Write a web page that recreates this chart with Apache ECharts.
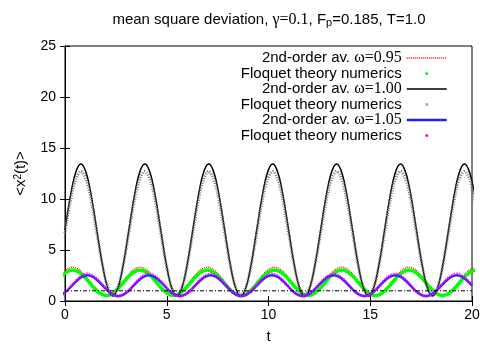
<!DOCTYPE html>
<html><head><meta charset="utf-8">
<script src="https://cdn.jsdelivr.net/npm/echarts@6.0.0/dist/echarts.min.js"></script>
<style>html,body{margin:0;padding:0;background:#fff}#c{width:500px;height:350px}</style>
</head><body><div id="c"></div>
<script>
// ---- omega = 0.95 : sample times and values ----
const t095 = [-0.171,0.105,0.380,0.655,0.931,1.206,1.482,1.757,2.033,2.308,2.583,2.859,3.134,3.410,
3.685,3.960,4.236,4.511,4.787,5.062,5.338,5.613,5.888,6.164,6.439,6.715,
6.990,7.265,7.541,7.816,8.092,8.367,8.643,8.918,9.193,9.469,9.744,10.020,
10.295,10.570,10.846,11.121,11.397,11.672,11.948,12.223,12.498,12.774,13.049,13.325,
13.600,13.875,14.151,14.426,14.702,14.977,15.253,15.528,15.803,16.079,16.354,16.630,
16.905,17.180,17.456,17.731,18.007,18.282,18.558,18.833,19.108,19.384,19.659,19.935,20.210];
const avg095 = [2.62,3.13,
3.32,3.13,2.62,1.92,1.22,0.71,0.52,0.71,1.22,1.92,2.62,3.13,
3.32,3.13,2.62,1.92,1.22,0.71,0.52,0.71,1.22,1.92,2.62,3.13,
3.32,3.13,2.62,1.92,1.22,0.71,0.52,0.71,1.22,1.92,2.62,3.13,
3.32,3.13,2.62,1.92,1.22,0.71,0.52,0.71,1.22,1.92,2.62,3.13,
3.32,3.13,2.62,1.92,1.22,0.71,0.52,0.71,1.22,1.92,2.62,3.13,
3.32,3.13,2.62,1.92,1.22,0.71,0.52,0.71,1.22,1.92,2.62,3.13,
3.32];
const floq095 = [2.42,2.87,
3.04,2.87,2.42,1.79,1.17,0.71,0.54,0.71,1.17,1.79,2.42,2.87,
3.04,2.87,2.42,1.79,1.17,0.71,0.54,0.71,1.17,1.79,2.42,2.87,
3.04,2.87,2.42,1.79,1.17,0.71,0.54,0.71,1.17,1.79,2.42,2.87,
3.04,2.87,2.42,1.79,1.17,0.71,0.54,0.71,1.17,1.79,2.42,2.87,
3.04,2.87,2.42,1.79,1.17,0.71,0.54,0.71,1.17,1.79,2.42,2.87,
3.04,2.87,2.42,1.79,1.17,0.71,0.54,0.71,1.17,1.79,2.42,2.87,
3.04];

// ---- omega = 1.00 ----
const t100 = [-0.005,0.256,0.518,0.780,1.042,1.304,1.565,1.827,2.089,2.351,2.613,2.875,3.137,
3.398,3.660,3.922,4.184,4.446,4.707,4.969,5.231,5.492,5.754,6.016,6.278,6.540,
6.801,7.063,7.325,7.587,7.849,8.110,8.372,8.634,8.896,9.158,9.419,9.681,9.943,
10.205,10.467,10.728,10.990,11.252,11.514,11.776,12.037,12.299,12.561,12.823,13.085,
13.346,13.608,13.870,14.132,14.394,14.655,14.917,15.179,15.441,15.703,15.964,16.226,
16.488,16.750,17.012,17.273,17.535,17.797,18.059,18.321,18.582,18.844,19.106,19.368,
19.630,19.891,20.153];
const avg100 = [6.95,10.19,12.55,
13.42,12.55,10.19,6.95,3.71,1.35,0.48,1.35,3.71,6.95,10.19,12.55,
13.42,12.55,10.19,6.95,3.71,1.35,0.48,1.35,3.71,6.95,10.19,12.55,
13.42,12.55,10.19,6.95,3.71,1.35,0.48,1.35,3.71,6.95,10.19,12.55,
13.42,12.55,10.19,6.95,3.71,1.35,0.48,1.35,3.71,6.95,10.19,12.55,
13.42,12.55,10.19,6.95,3.71,1.35,0.48,1.35,3.71,6.95,10.19,12.55,
13.42,12.55,10.19,6.95,3.71,1.35,0.48,1.35,3.71,6.95,10.19,12.55,
13.42,12.55,10.19];
const floq100 = [6.65,9.68,11.89,
12.70,11.89,9.68,6.65,3.63,1.41,0.60,1.41,3.63,6.65,9.68,11.89,
12.70,11.89,9.68,6.65,3.63,1.41,0.60,1.41,3.63,6.65,9.68,11.89,
12.70,11.89,9.68,6.65,3.63,1.41,0.60,1.41,3.63,6.65,9.68,11.89,
12.70,11.89,9.68,6.65,3.63,1.41,0.60,1.41,3.63,6.65,9.68,11.89,
12.70,11.89,9.68,6.65,3.63,1.41,0.60,1.41,3.63,6.65,9.68,11.89,
12.70,11.89,9.68,6.65,3.63,1.41,0.60,1.41,3.63,6.65,9.68,11.89,
12.70,11.89,9.68];

// ---- omega = 1.05 ----
const t105 = [-0.160,0.092,0.344,0.596,0.848,1.100,1.352,1.604,1.856,2.108,2.360,2.613,2.865,
3.117,3.369,3.621,3.873,4.125,4.377,4.629,4.881,5.133,5.385,5.638,5.890,6.142,
6.394,6.646,6.898,7.150,7.402,7.654,7.906,8.158,8.410,8.663,8.915,9.167,9.419,
9.671,9.923,10.175,10.427,10.679,10.931,11.183,11.435,11.688,11.940,12.192,12.444,
12.696,12.948,13.200,13.452,13.704,13.956,14.208,14.460,14.713,14.965,15.217,15.469,
15.721,15.973,16.225,16.477,16.729,16.981,17.233,17.485,17.738,17.990,18.242,18.494,
18.746,18.998,19.250,19.502,19.754,20.006];
const avg105 = [0.62,0.99,1.50,2.01,2.38,
2.52,2.38,2.01,1.50,0.99,0.62,0.48,0.62,0.99,1.50,2.01,2.38,
2.52,2.38,2.01,1.50,0.99,0.62,0.48,0.62,0.99,1.50,2.01,2.38,
2.52,2.38,2.01,1.50,0.99,0.62,0.48,0.62,0.99,1.50,2.01,2.38,
2.52,2.38,2.01,1.50,0.99,0.62,0.48,0.62,0.99,1.50,2.01,2.38,
2.52,2.38,2.01,1.50,0.99,0.62,0.48,0.62,0.99,1.50,2.01,2.38,
2.52,2.38,2.01,1.50,0.99,0.62,0.48,0.62,0.99,1.50,2.01,2.38,
2.52,2.38,2.01,1.50];
const floq105 = [0.61,1.01,1.56,2.11,2.51,
2.66,2.51,2.11,1.56,1.01,0.61,0.46,0.61,1.01,1.56,2.11,2.51,
2.66,2.51,2.11,1.56,1.01,0.61,0.46,0.61,1.01,1.56,2.11,2.51,
2.66,2.51,2.11,1.56,1.01,0.61,0.46,0.61,1.01,1.56,2.11,2.51,
2.66,2.51,2.11,1.56,1.01,0.61,0.46,0.61,1.01,1.56,2.11,2.51,
2.66,2.51,2.11,1.56,1.01,0.61,0.46,0.61,1.01,1.56,2.11,2.51,
2.66,2.51,2.11,1.56,1.01,0.61,0.46,0.61,1.01,1.56,2.11,2.51,
2.66,2.51,2.11,1.56];

// horizontal reference level (dash-dot line)
const refT = [0, 20];
const refLevel = [1.0, 1.0];

const legendLabels = {
  avg095: '{a|2nd-order av. }{w|ω=0.95}',
  floq095: '{a|Floquet theory numerics}',
  avg100: '{a|2nd-order av. }{w|ω=1.00}',
  floq100: '{a|Floquet theory numerics}',
  avg105: '{a|2nd-order av. }{w|ω=1.05}',
  floq105: '{a|Floquet theory numerics}'
};

const SANS = 'Liberation Sans, Arial, Helvetica, sans-serif';
const SERIF = 'Liberation Serif, Times New Roman, serif';
const pts = (tt, arr) => tt.map((x, i) => [x, arr[i]]);
const SM = 0.35;

const chart = echarts.init(document.getElementById('c'), null, {renderer: 'canvas'});
const axisCommon = {
  type: 'value',
  axisLine: {show: true, lineStyle: {color: '#000', width: 1}},
  axisTick: {show: true, inside: true, length: 5, lineStyle: {color: '#000', width: 1}},
  splitLine: {show: false}
};
chart.setOption({
  animation: false,
  backgroundColor: '#fff',
  grid: {left: 65, right: 28, top: 46, bottom: 49, show: true, borderColor: '#000', borderWidth: 1},
  graphic: [{
    type: 'text', x: 269, y: 20,
    style: {
      text: '{a|mean square deviation, }{g|γ=0.1}{a|, F}{s|p}{a|=0.185, T=1.0}',
      align: 'center', verticalAlign: 'middle', textAlign: 'center', textVerticalAlign: 'middle',
      rich: {
        a: {fontFamily: SANS, fontSize: 15, lineHeight: 17, fill: '#000', color: '#000'},
        g: {fontFamily: SERIF, fontSize: 16, lineHeight: 17, fill: '#000', color: '#000'},
        s: {fontFamily: SANS, fontSize: 11, lineHeight: 8, verticalAlign: 'bottom', fill: '#000', color: '#000'}
      }
    }
  }],
  legend: {
    orient: 'vertical', right: 47, top: 45, align: 'right',
    itemWidth: 40, itemHeight: 3, itemGap: 0, selectedMode: false,
    formatter: name => legendLabels[name],
    textStyle: {
      color: '#000', fontFamily: SANS, fontSize: 15,
      rich: {
        a: {fontFamily: SANS, fontSize: 15, lineHeight: 15, color: '#000'},
        w: {fontFamily: SERIF, fontSize: 16, lineHeight: 15, color: '#000'}
      }
    },
    data: [
      {name: 'avg095', itemStyle: {opacity: 0}, lineStyle: {color: '#ff0000', width: 1.3, type: [1, 1]}},
      {name: 'floq095', icon: 'circle', itemStyle: {color: '#00ff00'}},
      {name: 'avg100', itemStyle: {opacity: 0}, lineStyle: {color: '#000000', width: 1.5}},
      {name: 'floq100', icon: 'path://M0,1L1,0L5,4L9,0L10,1L6,5L10,9L9,10L5,6L1,10L0,9L4,5Z', itemStyle: {color: '#333'}},
      {name: 'avg105', itemStyle: {opacity: 0}, lineStyle: {color: '#2222ff', width: 2.5}},
      {name: 'floq105', icon: 'circle', itemStyle: {color: '#ff00ff'}}
    ]
  },
  xAxis: [
    Object.assign({}, axisCommon, {
      min: 0, max: 20, interval: 5, position: 'bottom',
      axisLabel: {color: '#000', fontFamily: SANS, fontSize: 14, margin: 7},
      name: 't', nameLocation: 'middle', nameGap: 28,
      nameTextStyle: {color: '#000', fontFamily: SANS, fontSize: 15}
    }),
    Object.assign({}, axisCommon, {min: 0, max: 20, interval: 5, position: 'top', axisLabel: {show: false}})
  ],
  yAxis: [
    Object.assign({}, axisCommon, {
      min: 0, max: 25, interval: 5, position: 'left',
      axisLabel: {color: '#000', fontFamily: SANS, fontSize: 14, margin: 9},
      name: '{a|<x}{s|2}{a|(t)>}', nameLocation: 'middle', nameGap: 36,
      nameTextStyle: {
        color: '#000', fontFamily: SANS, fontSize: 15,
        rich: {
          a: {fontFamily: SANS, fontSize: 15, lineHeight: 16, color: '#000'},
          s: {fontFamily: SANS, fontSize: 10, lineHeight: 8, verticalAlign: 'top', color: '#000'}
        }
      }
    }),
    Object.assign({}, axisCommon, {min: 0, max: 25, interval: 5, position: 'right', axisLabel: {show: false}})
  ],
  series: [
    {name: 'avg095', type: 'line', data: pts(t095, avg095), smooth: SM, symbol: 'none', color: '#ff0000',
     lineStyle: {color: '#ff0000', width: 1.3, type: [1, 1]}},
    {name: 'floq095', type: 'line', data: pts(t095, floq095), smooth: SM, symbol: 'none', color: '#00ff00',
     lineStyle: {color: '#00ff00', width: 3.5}},
    {name: 'avg100', type: 'line', data: pts(t100, avg100), smooth: SM, symbol: 'none', color: '#000',
     lineStyle: {color: '#000', width: 1.5}},
    {name: 'floq100', type: 'line', data: pts(t100, floq100), smooth: SM, symbol: 'none', color: '#333',
     lineStyle: {color: '#777', width: 3, type: [1, 1.5]}},
    {name: 'avg105', type: 'line', data: pts(t105, avg105), smooth: SM, symbol: 'none', color: '#2222ff',
     lineStyle: {color: '#2222ff', width: 2.5}},
    {name: 'floq105', type: 'line', data: pts(t105, floq105), smooth: SM, symbol: 'none', color: '#ff00ff',
     lineStyle: {color: '#ff00ff', width: 2.5, type: [1.5, 1], opacity: 0.85}},
    {type: 'line', data: pts(refT, refLevel), symbol: 'none', silent: true,
     lineStyle: {color: '#000', width: 1, type: [4, 2, 1, 2]}}
  ]
});
</script>
</body></html>
